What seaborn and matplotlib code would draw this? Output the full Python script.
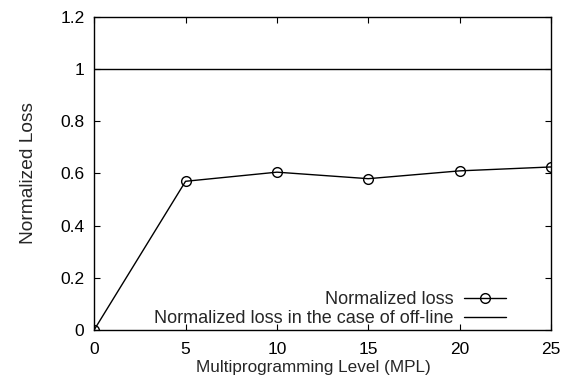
import matplotlib
matplotlib.use("Agg")
import matplotlib.pyplot as plt
import seaborn as sns
import pandas as pd

mpl_levels = [0, 5, 10, 15, 20, 25]
norm_loss = [0.0, 0.57, 0.605, 0.58, 0.61, 0.625]
offline_loss = [1.0, 1.0, 1.0, 1.0, 1.0, 1.0]
x_ticks = [0, 5, 10, 15, 20, 25]
y_ticks = [0, 0.2, 0.4, 0.6, 0.8, 1, 1.2]
y_tick_labels = ["0", "0.2", "0.4", "0.6", "0.8", "1", "1.2"]

sns.set_theme(style="ticks")
plt.rcParams['font.family'] = ['Liberation Sans', 'DejaVu Sans']

df = pd.DataFrame({"mpl": mpl_levels, "loss": norm_loss, "off": offline_loss})

fig, ax = plt.subplots(figsize=(5.64, 3.8), dpi=100)
fig.subplots_adjust(left=0.167, right=0.977, top=0.955, bottom=0.132)

sns.lineplot(data=df, x="mpl", y="loss", ax=ax, color="black", linewidth=1.0,
             marker="o", markersize=7, markerfacecolor="none", markeredgecolor="black",
             markeredgewidth=1.0, label="Normalized loss")
sns.lineplot(data=df, x="mpl", y="off", ax=ax, color="black", linewidth=1.0,
             label="Normalized loss in the case of off-line")

ax.set_xlim(0, 25)
ax.set_ylim(0, 1.2)
ax.set_xticks(x_ticks)
ax.set_xticklabels([str(t) for t in x_ticks])
ax.set_yticks(y_ticks)
ax.set_yticklabels(y_tick_labels)
ax.tick_params(direction="in", length=4, width=0.8, top=True, right=True,
               labelsize=12.5, colors="black", pad=7)
ax.tick_params(axis="x", pad=9)
for s in ax.spines.values():
    s.set_linewidth(1.0)
    s.set_color("black")
ax.set_xlabel("Multiprogramming Level (MPL)", fontsize=12.3, labelpad=0)
ax.xaxis.set_label_coords(0.48, -0.095)
ax.set_ylabel("Normalized Loss", fontsize=13.8, labelpad=17)

leg = ax.legend(loc="lower right", bbox_to_anchor=(0.925, -0.025), frameon=False,
                markerfirst=False, fontsize=13, handlelength=2.3, borderaxespad=0.2,
                labelspacing=0.1, handletextpad=0.6)
for t in leg.get_texts():
    t.set_ha("right")
leg._legend_box.align = "right"

fig.savefig("out.png", dpi=100)
